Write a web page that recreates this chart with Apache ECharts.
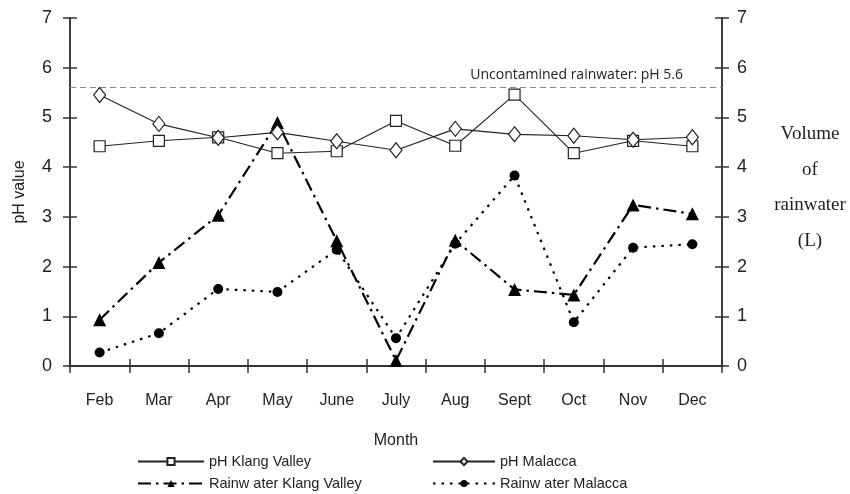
<!DOCTYPE html>
<html>
<head>
<meta charset="utf-8">
<script src="https://cdn.jsdelivr.net/npm/echarts@6/dist/echarts.min.js"></script>
<style>html,body{margin:0;padding:0;background:#fff;}#c{width:850px;height:494px;}</style>
</head>
<body>
<div id="c"></div>
<script>
const months = ['Feb','Mar','Apr','May','June','July','Aug','Sept','Oct','Nov','Dec'];
const phKlang = [4.42,4.53,4.6,4.28,4.32,4.93,4.43,5.46,4.28,4.53,4.42];
const phMalacca = [5.45,4.87,4.59,4.7,4.52,4.34,4.77,4.66,4.63,4.55,4.6];
const rainKlang = [0.93,2.08,3.03,4.9,2.52,0.11,2.53,1.54,1.43,3.24,3.06];
const rainMalacca = [0.27,0.66,1.55,1.49,2.34,0.56,2.46,3.83,0.88,2.38,2.45];
const uncontaminatedPH = 5.6;
const yMin = 0, yMax = 7, yStep = 1;

const axisColor = '#333';
const font = 'Liberation Sans, Arial, sans-serif';

function xAx(pos, inside, showLabel, extra) {
  return Object.assign({
    type: 'category', data: months, position: pos, boundaryGap: true,
    axisLine: {show: true, lineStyle: {color: axisColor, width: 1.5}},
    axisTick: {show: true, inside: inside, length: 7, lineStyle: {color: axisColor, width: 1.5}},
    axisLabel: {show: showLabel, fontFamily: font, fontSize: 16, color: '#222', margin: 27},
    splitLine: {show: false}
  }, extra || {});
}
function yAx(pos, inside, showLabel, extra) {
  return Object.assign({
    type: 'value', position: pos, min: yMin, max: yMax, interval: yStep,
    axisLine: {show: true, lineStyle: {color: axisColor, width: 1.5}},
    axisTick: {show: true, inside: inside, length: 7, lineStyle: {color: axisColor, width: 1.5}},
    axisLabel: {show: showLabel, fontFamily: font, fontSize: 18, color: '#222', margin: pos === 'left' ? 18 : 15},
    splitLine: {show: false}
  }, extra || {});
}
function leg(name, left, top, w) {
  return {
    left: left, top: top, orient: 'horizontal', itemWidth: w, itemHeight: 9, padding: 0,
    data: [name],
    textStyle: {fontFamily: font, fontSize: 14.5, color: '#222'}
  };
}

const chart = echarts.init(document.getElementById('c'), null, {renderer: 'canvas'});
chart.setOption({
  animation: false,
  backgroundColor: '#fff',
  grid: {left: 70, right: 128, top: 18, bottom: 128, containLabel: false},
  title: {
    text: 'Volume\nof\nrainwater\n(L)',
    left: 805, top: 111, textAlign: 'center',
    textStyle: {fontFamily: 'Liberation Serif, Times New Roman, serif', fontSize: 19, fontWeight: 'normal', color: '#222', lineHeight: 35.7, align: 'center'}
  },
  xAxis: [
    xAx('bottom', false, true, {name: 'Month', nameLocation: 'middle', nameGap: 67,
      nameTextStyle: {fontFamily: font, fontSize: 16, color: '#222'}}),
    xAx('bottom', true, false),
    xAx('top', true, false),
    xAx('top', false, false)
  ],
  yAxis: [
    yAx('left', false, true, {name: 'pH value', nameLocation: 'middle', nameGap: 42,
      nameTextStyle: {fontFamily: font, fontSize: 16, color: '#222'}}),
    yAx('left', true, false),
    yAx('right', false, true),
    yAx('right', true, false)
  ],
  legend: [
    leg('pH Klang Valley', 137, 454, 66),
    leg('Rainw ater Klang Valley', 137, 476, 66),
    leg('pH Malacca', 432, 454, 62),
    leg('Rainw ater Malacca', 432, 476, 62)
  ],
  series: [
    {
      name: 'Rainw ater Klang Valley', type: 'line', xAxisIndex: 0, yAxisIndex: 2, data: rainKlang,
      symbol: 'triangle', symbolSize: 13,
      itemStyle: {color: '#000'},
      lineStyle: {color: '#000', width: 2.2, type: [13, 5, 2.5, 5]}, z: 2
    },
    {
      name: 'Rainw ater Malacca', type: 'line', xAxisIndex: 0, yAxisIndex: 2, data: rainMalacca,
      symbol: 'circle', symbolSize: 10,
      itemStyle: {color: '#000'},
      lineStyle: {color: '#000', width: 2.2, type: [2.5, 6]}, z: 2
    },
    {
      name: 'pH Klang Valley', type: 'line', xAxisIndex: 0, yAxisIndex: 0, data: phKlang,
      symbol: 'rect', symbolSize: 11,
      itemStyle: {color: '#fff', borderColor: '#222', borderWidth: 1.2},
      lineStyle: {color: '#222', width: 1.1}, z: 3,
      markLine: {
        silent: true, symbol: 'none',
        lineStyle: {color: '#888', type: [6, 4], width: 1.2},
        label: {show: true, position: 'insideEndTop', formatter: 'Uncontamined rainwater: pH 5.6',
          fontFamily: 'Open Sans, sans-serif', fontSize: 14, color: '#222', padding: [0, 33, 0, 0], distance: 6},
        data: [{yAxis: uncontaminatedPH}]
      }
    },
    {
      name: 'pH Malacca', type: 'line', xAxisIndex: 0, yAxisIndex: 0, data: phMalacca,
      symbol: 'diamond', symbolSize: [12, 15],
      itemStyle: {color: '#fff', borderColor: '#222', borderWidth: 1.2},
      lineStyle: {color: '#222', width: 1.1}, z: 3
    }
  ]
});
</script>
</body>
</html>
